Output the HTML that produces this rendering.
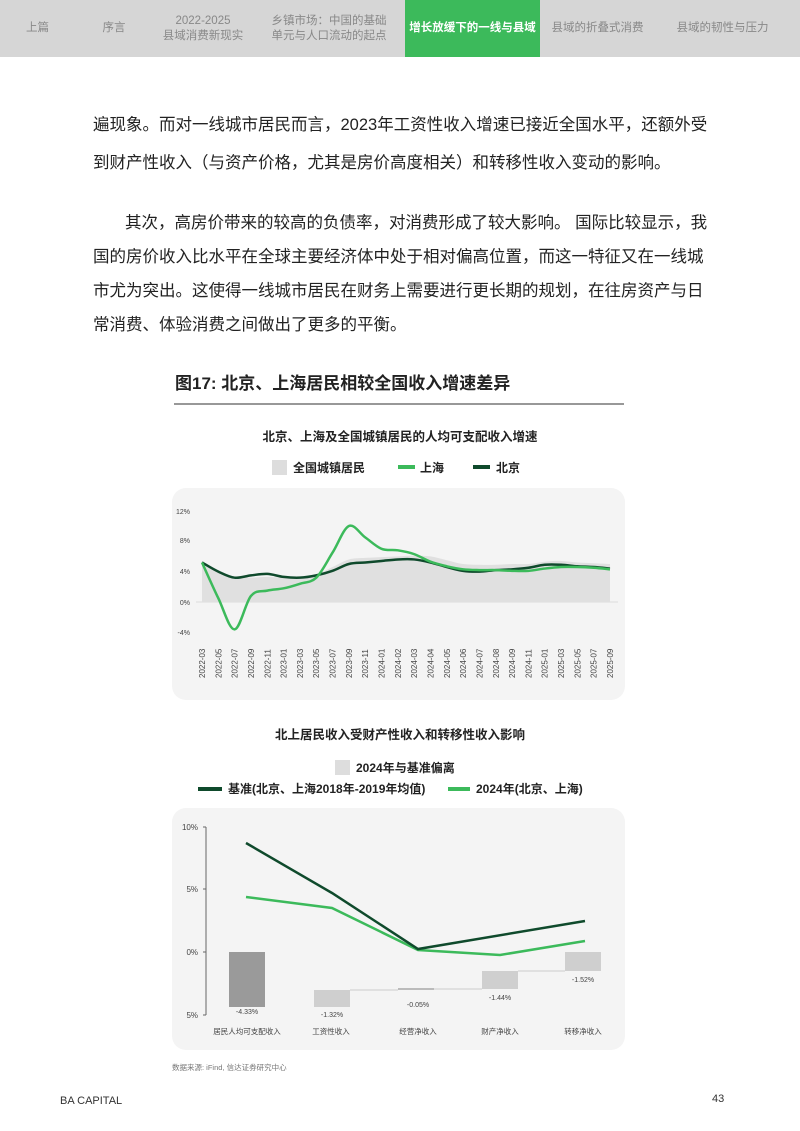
<!DOCTYPE html>
<html><head><meta charset="utf-8">
<style>
html,body{margin:0;padding:0;background:#fff;}
body{width:800px;height:1131px;position:relative;overflow:hidden;font-family:"Liberation Sans","Noto Sans CJK SC",sans-serif;}
.nav{position:absolute;left:0;top:0;width:800px;height:57px;background:#d6d6d6;}
.nav div{position:absolute;top:0;height:57px;display:flex;align-items:center;justify-content:center;text-align:center;font-size:11.5px;line-height:15px;color:#888;}
.nav .on{background:#3cba5b;color:#fff;font-weight:bold;}
.p{position:absolute;left:93px;font-size:16.5px;color:#222;white-space:nowrap;}
</style></head><body>
<div class="nav">
<div style="left:0;width:75px">上篇</div>
<div style="left:75px;width:78px">序言</div>
<div style="left:153px;width:100px">2022-2025<br>县域消费新现实</div>
<div style="left:253px;width:152px">乡镇市场：中国的基础<br>单元与人口流动的起点</div>
<div class="on" style="left:405px;width:135px">增长放缓下的一线与县域</div>
<div style="left:540px;width:115px">县域的折叠式消费</div>
<div style="left:655px;width:135px">县域的韧性与压力</div>
</div>
<div class="p" style="top:111px">遍现象。而对一线城市居民而言，2023年工资性收入增速已接近全国水平，还额外受</div>
<div class="p" style="top:149px">到财产性收入（与资产价格，尤其是房价高度相关）和转移性收入变动的影响。</div>
<div class="p" style="top:209px;left:125px">其次，高房价带来的较高的负债率，对消费形成了较大影响。 国际比较显示，我</div>
<div class="p" style="top:243px">国的房价收入比水平在全球主要经济体中处于相对偏高位置，而这一特征又在一线城</div>
<div class="p" style="top:277px">市尤为突出。这使得一线城市居民在财务上需要进行更长期的规划，在往房资产与日</div>
<div class="p" style="top:311px">常消费、体验消费之间做出了更多的平衡。</div>
<svg id="s" width="800" height="1131" style="position:absolute;left:0;top:0" font-family="Liberation Sans, Noto Sans CJK SC, sans-serif">
<text x="175" y="389" font-size="17" font-weight="bold" fill="#222">图17: 北京、上海居民相较全国收入增速差异</text>
<line x1="174" y1="404" x2="624" y2="404" stroke="#777" stroke-width="1.5"/>
<text x="400" y="441" font-size="12.5" font-weight="bold" text-anchor="middle" fill="#222">北京、上海及全国城镇居民的人均可支配收入增速</text>
<rect x="272" y="460" width="15" height="15" fill="#ddd"/>
<text x="293" y="472" font-size="12" font-weight="bold" fill="#222">全国城镇居民</text>
<rect x="398" y="465" width="17" height="4" fill="#3cba5b"/>
<text x="420" y="472" font-size="12" font-weight="bold" fill="#222">上海</text>
<rect x="473" y="465" width="17" height="4" fill="#0f4a2c"/>
<text x="496" y="472" font-size="12" font-weight="bold" fill="#222">北京</text>
<rect x="172" y="488" width="453" height="212" rx="14" fill="#f4f4f4"/>
<g font-size="7" fill="#444" text-anchor="end">
<text x="190" y="514">12%</text><text x="190" y="543">8%</text><text x="190" y="574">4%</text><text x="190" y="605">0%</text><text x="190" y="635">-4%</text>
</g>
<line x1="196" y1="602" x2="618" y2="602" stroke="#ddd"/>
<g id="c1"></g>
<g id="xl" font-size="8" fill="#444"></g>
<text x="400" y="739" font-size="12.5" font-weight="bold" text-anchor="middle" fill="#222">北上居民收入受财产性收入和转移性收入影响</text>
<rect x="335" y="760" width="15" height="15" fill="#ddd"/>
<text x="356" y="772" font-size="12" font-weight="bold" fill="#222">2024年与基准偏离</text>
<rect x="198" y="787" width="24" height="4" fill="#0f4a2c"/>
<text x="228" y="793" font-size="12" font-weight="bold" fill="#222">基准(北京、上海2018年-2019年均值)</text>
<rect x="448" y="787" width="22" height="4" fill="#3cba5b"/>
<text x="476" y="793" font-size="12" font-weight="bold" fill="#222">2024年(北京、上海)</text>
<rect x="172" y="808" width="453" height="242" rx="14" fill="#f4f4f4"/>
<line x1="206" y1="827" x2="206" y2="1015" stroke="#666"/>
<g stroke="#666"><line x1="203" y1="827" x2="206" y2="827"/><line x1="203" y1="889" x2="206" y2="889"/><line x1="203" y1="952" x2="206" y2="952"/><line x1="203" y1="1015" x2="206" y2="1015"/></g>
<g font-size="8" fill="#444" text-anchor="end"><text x="198" y="830">10%</text><text x="198" y="892">5%</text><text x="198" y="955">0%</text><text x="198" y="1018">5%</text></g>
<rect x="229" y="952" width="36" height="55" fill="#9a9a9a"/>
<rect x="314" y="990" width="36" height="17" fill="#cfcfcf"/>
<rect x="398" y="988" width="36" height="2" fill="#bbb"/>
<rect x="482" y="971" width="36" height="18" fill="#cfcfcf"/>
<rect x="565" y="952" width="36" height="19" fill="#cfcfcf"/>
<g stroke="#ccc" stroke-width="1"><line x1="350" y1="990" x2="398" y2="990"/><line x1="434" y1="989" x2="482" y2="989"/><line x1="518" y1="971" x2="565" y2="971"/></g>
<g font-size="7" fill="#444" text-anchor="middle">
<text x="247" y="1014">-4.33%</text><text x="332" y="1017">-1.32%</text><text x="418" y="1007">-0.05%</text><text x="500" y="1000">-1.44%</text><text x="583" y="982">-1.52%</text>
</g>
<polyline points="246,897 332,908 418,950 500,955 585,941" fill="none" stroke="#3cba5b" stroke-width="2.5"/>
<polyline points="246,843 332,893 418,949 585,921" fill="none" stroke="#0f4a2c" stroke-width="2.5"/>
<g font-size="7.5" fill="#444" text-anchor="middle">
<text x="247" y="1034">居民人均可支配收入</text><text x="331" y="1034">工资性收入</text><text x="418" y="1034">经营净收入</text><text x="500" y="1034">财产净收入</text><text x="583" y="1034">转移净收入</text>
</g>
<text x="172" y="1070" font-size="7.5" fill="#777">数据来源: iFind, 信达证券研究中心</text>
<text x="60" y="1104" font-size="11" fill="#333">BA CAPITAL</text>
<text x="712" y="1102" font-size="11" fill="#333">43</text>
</svg>
<script>
var labs=["2022-03","2022-05","2022-07","2022-09","2022-11","2023-01","2023-03","2023-05","2023-07","2023-09","2023-11","2024-01","2024-02","2024-03","2024-04","2024-05","2024-06","2024-07","2024-08","2024-09","2024-11","2025-01","2025-03","2025-05","2025-07","2025-09"];
var n=labs.length,x0=202,x1=610,dx=(x1-x0)/(n-1);
function X(i){return x0+i*dx}function Y(v){return 602-v*7.6}
var area=[5.2,4.0,3.3,3.2,3.3,3.2,3.3,3.6,4.6,5.6,5.8,5.9,6.0,6.1,6.0,5.5,5.0,4.9,4.9,5.0,5.0,5.3,5.4,5.2,5.1,5.0];
var bj=[5.2,4.0,3.2,3.5,3.7,3.3,3.2,3.5,4.1,5.0,5.2,5.4,5.6,5.6,5.2,4.6,4.1,4.0,4.2,4.3,4.5,4.9,4.9,4.7,4.6,4.4];
var sh=[5.2,0.5,-3.6,0.8,1.5,1.8,2.4,3.2,6.5,10.0,8.5,7.0,6.8,6.3,5.3,4.7,4.3,4.2,4.2,4.1,4.1,4.4,4.6,4.6,4.5,4.3];
function path(a){var p=[];for(var i=0;i<a.length;i++)p.push([X(i),Y(a[i])]);var d="M"+p[0][0]+","+p[0][1];
for(var i=0;i<p.length-1;i++){var a0=p[i-1]||p[i],b=p[i],c=p[i+1],e=p[i+2]||c;
d+=" C"+(b[0]+(c[0]-a0[0])/6)+","+(b[1]+(c[1]-a0[1])/6)+" "+(c[0]-(e[0]-b[0])/6)+","+(c[1]-(e[1]-b[1])/6)+" "+c[0]+","+c[1];}return d;}
var ns="http://www.w3.org/2000/svg",g=document.getElementById("c1");
function add(tag,at,par){var el=document.createElementNS(ns,tag);for(var k in at)el.setAttribute(k,at[k]);(par||g).appendChild(el);return el;}
add("path",{d:path(area)+" L"+X(n-1)+",602 L"+X(0)+",602 Z",fill:"#e0e0e0"});
add("path",{d:path(bj),fill:"none",stroke:"#0f4a2c","stroke-width":2.5});
add("path",{d:path(sh),fill:"none",stroke:"#3cba5b","stroke-width":2.5});
var xl=document.getElementById("xl");
for(var i=0;i<n;i++){var t=add("text",{transform:"translate("+(X(i)+3)+",678) rotate(-90)"},xl);t.textContent=labs[i];}
</script>
</body></html>
